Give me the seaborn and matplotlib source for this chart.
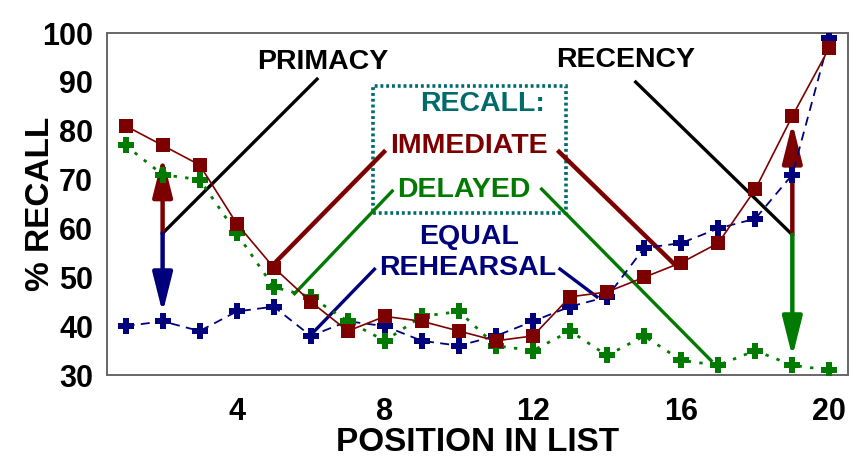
import matplotlib
matplotlib.use("Agg")
import matplotlib.pyplot as plt
import seaborn as sns
import pandas as pd
from matplotlib.patches import Rectangle

positions = list(range(1, 21))
immediate = [81, 77, 73, 61, 52, 45, 39, 42, 41, 39, 37, 38, 46, 47, 50, 53, 57, 68, 83, 97]
delayed = [77, 71, 70, 59, 48, 46, 41, 37, 42, 43, 36, 35, 39, 34, 38, 33, 32, 35, 32, 31]
equal_rehearsal = [40, 41, 39, 43, 44, 38, 41, 40, 37, 36, 38, 41, 44, 46, 56, 57, 60, 62, 71, 99]
y_ticks = [30, 40, 50, 60, 70, 80, 90, 100]
x_labeled = [4, 8, 12, 16, 20]

MAROON = "#7d0000"
GREEN = "#007a00"
NAVY = "#00007d"
TEAL = "#006b6b"

sns.set_theme(style="white")
plt.rcParams["font.family"] = ["Liberation Sans", "DejaVu Sans"]
plt.rcParams["font.weight"] = "bold"
plt.rcParams["text.color"] = "black"
plt.rcParams["axes.labelcolor"] = "black"

fig = plt.figure(figsize=(8.66, 4.75), dpi=100)
ax = fig.add_axes([0.1236, 0.2105, 0.8555, 0.72])

df = pd.DataFrame({"pos": positions, "imm": immediate, "del": delayed, "eq": equal_rehearsal})

sns.lineplot(data=df, x="pos", y="eq", ax=ax, color=NAVY, linestyle=(0, (5, 3.5)), lw=1.3,
             marker="P", markersize=11.5, markeredgewidth=0, zorder=5)
sns.lineplot(data=df, x="pos", y="del", ax=ax, color=GREEN, linestyle=(0, (1.2, 3)), lw=2,
             marker="P", markersize=11.5, markeredgewidth=0, zorder=5)
sns.lineplot(data=df, x="pos", y="imm", ax=ax, color=MAROON, linestyle="-", lw=1.2,
             marker="s", markersize=10.5, markeredgewidth=0, zorder=6)

ax.set_xlim(0.5, 20.5)
ax.set_ylim(30, 100)
ax.set_xticks(positions)
ax.set_xticklabels([str(p) if p in x_labeled else "" for p in positions])
ax.set_yticks(y_ticks)
ax.set_yticklabels([str(v) for v in y_ticks])
ax.tick_params(axis="both", direction="out", length=7, width=1.3, color="#666666",
               labelcolor="black", labelsize=22)
ax.tick_params(axis="x", pad=9)
ax.tick_params(axis="y", pad=3)
for lab in ax.get_xticklabels() + ax.get_yticklabels():
    lab.set_fontweight("bold")
for sp in ax.spines.values():
    sp.set_color("#666666")
    sp.set_linewidth(1.4)

ax.set_xlabel("POSITION IN LIST", fontsize=24, fontweight="bold", labelpad=0)
ax.set_ylabel("% RECALL", fontsize=24, fontweight="bold", labelpad=-10)

# annotation lines
def seg(p0, p1, color, lw):
    ax.plot([p0[0], p1[0]], [p0[1], p1[1]], color=color, lw=lw, solid_capstyle="butt", zorder=3)

seg((2, 59), (6.2, 90.8), "black", 2.4)
seg((14.74, 90.2), (19, 58.7), "black", 2.4)
seg((5.05, 53.1), (8.02, 76.0), MAROON, 3.2)
seg((12.66, 76.0), (15.84, 52.5), MAROON, 3.2)
seg((5.53, 46.4), (8.23, 67.9), GREEN, 2.4)
seg((12.20, 68.3), (16.84, 32.7), GREEN, 2.4)
seg((6.05, 38.6), (7.75, 51.9), NAVY, 2.4)
seg((12.69, 51.9), (13.76, 45.8), NAVY, 2.4)

def arrow(x, y0, y1, color):
    ax.annotate("", xy=(x, y1), xytext=(x, y0),
                arrowprops=dict(arrowstyle="-|>,head_length=1.2,head_width=0.3",
                                color=color, lw=3.2, shrinkA=0, shrinkB=0,
                                mutation_scale=20), zorder=4)

arrow(2, 59, 74.7, MAROON)
arrow(2, 59, 42.7, NAVY)
arrow(19, 58.7, 81.6, MAROON)
arrow(19, 58.7, 33.7, GREEN)

# texts
kw = dict(fontweight="bold", ha="center", va="center")
ax.text(6.32, 94.1, "PRIMACY", fontsize=20.5, color="black", **kw)
ax.text(14.49, 94.5, "RECENCY", fontsize=20.5, color="black", **kw)
ax.text(10.63, 85.5, "RECALL:", fontsize=20.5, color=TEAL, **kw)
ax.text(10.28, 76.9, "IMMEDIATE", fontsize=20.5, color=MAROON, **kw)
ax.text(10.12, 67.9, "DELAYED", fontsize=20.5, color=GREEN, **kw)
ax.text(10.28, 58.2, "EQUAL", fontsize=20.5, color=NAVY, **kw)
ax.text(10.23, 51.9, "REHEARSAL", fontsize=20.5, color=NAVY, **kw)

ax.add_patch(Rectangle((7.67, 63.2), 12.90 - 7.67, 89.1 - 63.2, fill=False, edgecolor=TEAL,
                       lw=2.6, linestyle=(0, (0.8, 0.8)), zorder=2))

fig.savefig("out.png", dpi=100)
